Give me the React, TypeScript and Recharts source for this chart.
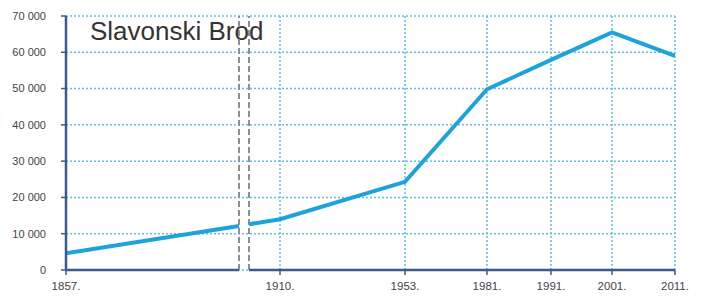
import React from 'react';
import { LineChart, Line, XAxis, YAxis, CartesianGrid, ReferenceLine, Customized } from 'recharts';

// Census years (labels as printed) and their slot positions along the (non-linear) x axis
const yearLabels = ['1857.', '1910.', '1953.', '1981.', '1991.', '2001.', '2011.'];
const yearSlots = [0, 214, 339, 421, 485, 546, 609];
const population = [4600, 14000, 24300, 49800, 57900, 65500, 59000];

// Axis break (between 1857 and 1910) and the population where the line meets it
const breakSlots = [173, 183];
const breakPopulation = [12100, 12600];

const yTicks = [0, 10000, 20000, 30000, 40000, 50000, 60000, 70000];
const title = 'Slavonski Brod';

const segmentBefore = [
  { slot: yearSlots[0], pop: population[0] },
  { slot: breakSlots[0], pop: breakPopulation[0] },
];
const segmentAfter = [
  { slot: breakSlots[1], pop: breakPopulation[1] },
  ...yearSlots.slice(1).map((s, i) => ({ slot: s, pop: population[i + 1] })),
];

const AXIS = '#3b5a8f';
const LINE = '#1ea2dc';
const GRID = '#62bde2';
const BREAK = '#8a909a';
const FONT = '"Liberation Sans", Arial, sans-serif';

const fmtY = (v: number) => (v === 0 ? '0' : `${Math.floor(v / 1000)} ${String(v % 1000).padStart(3, '0')}`);
const fmtX = (v: number) => {
  const i = yearSlots.indexOf(v);
  return i >= 0 ? yearLabels[i] : '';
};

export default function App() {
  return (
    <LineChart width={696} height={290} margin={{ top: 8, right: 29, bottom: 0, left: 0 }}>
      <CartesianGrid stroke={GRID} strokeDasharray="2 2" strokeWidth={1.5} />
      <XAxis
        type="number"
        dataKey="slot"
        domain={[0, 609]}
        ticks={yearSlots}
        tickFormatter={fmtX}
        allowDataOverflow
        axisLine={false}
        tickLine={{ stroke: AXIS, strokeWidth: 1.5 }}
        tickSize={5}
        tickMargin={7}
        height={28}
        tick={{ fill: '#444', fontSize: 11.5, fontFamily: FONT }}
      />
      <YAxis
        type="number"
        domain={[0, 70000]}
        ticks={yTicks}
        tickFormatter={fmtY}
        width={58}
        axisLine={{ stroke: AXIS, strokeWidth: 2.5 }}
        tickLine={{ stroke: AXIS, strokeWidth: 1.5 }}
        tickSize={5}
        tickMargin={15}
        tick={{ fill: '#444', fontSize: 11, fontFamily: FONT }}
      />
      {breakSlots.map((s) => (
        <ReferenceLine key={s} x={s} stroke={BREAK} strokeWidth={2} strokeDasharray="6 3" ifOverflow="visible" />
      ))}
      <ReferenceLine
        segment={[{ x: yearSlots[0], y: 0 }, { x: breakSlots[0], y: 0 }]}
        stroke={AXIS}
        strokeWidth={2.5}
        ifOverflow="visible"
      />
      <ReferenceLine
        segment={[{ x: breakSlots[1], y: 0 }, { x: yearSlots[yearSlots.length - 1], y: 0 }]}
        stroke={AXIS}
        strokeWidth={2.5}
        ifOverflow="visible"
      />
      <Line
        data={segmentBefore}
        dataKey="pop"
        stroke={LINE}
        strokeWidth={4}
        dot={false}
        activeDot={false}
        isAnimationActive={false}
      />
      <Line
        data={segmentAfter}
        dataKey="pop"
        stroke={LINE}
        strokeWidth={4}
        dot={false}
        activeDot={false}
        isAnimationActive={false}
      />
      <Customized
        component={() => (
          <text x={82} y={32} fontSize={26} fontFamily={FONT} fill="#333">
            {title}
          </text>
        )}
      />
    </LineChart>
  );
}
